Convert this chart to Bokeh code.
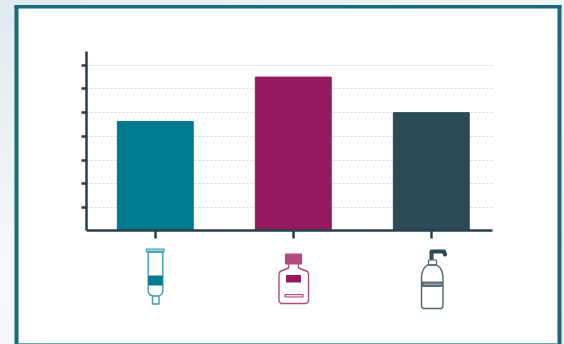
from bokeh.plotting import figure
from bokeh.models import Range1d, FixedTicker
from bokeh.embed import file_html
from bokeh.resources import INLINE

categories = ["Tube", "Bottle", "Pump"]
values = [4.63, 6.5, 5.0]
bar_colors = ["#007a8f", "#96185e", "#2c4a55"]
y_ticks = [1, 2, 3, 4, 5, 6, 7]
positions = [0, 1, 2]

INK = "#24404d"
FRAME = "#186b7a"
TEAL_L = "#3f9bb0"
MAG_L = "#b5487f"
DARK_L = "#4a6570"

p = figure(width=564, height=344, output_backend="svg", toolbar_location=None,
           x_range=Range1d(-0.4985, 2.4435), y_range=Range1d(0.03, 7.58),
           min_border_left=86, min_border_right=72, min_border_top=51, min_border_bottom=114,
           background_fill_color=None, border_fill_color=None, outline_line_color=None)
p.styles = {
    "position": "fixed", "left": "0", "top": "0",
    "background": "linear-gradient(#ffffff,#ffffff) 18px 8px / 539px 335px no-repeat, "
                  "linear-gradient(160deg,#dfe9f0 0%,#f6f9fb 50%,#eaf0f7 100%)",
}

p.vbar(x=positions, top=values, width=0.55, bottom=0, color=bar_colors)

for ax, tick_out in ((p.yaxis[0], 5), (p.xaxis[0], 8)):
    ax.axis_line_color = INK
    ax.axis_line_width = 2.5
    ax.major_tick_line_color = INK
    ax.major_tick_line_width = 2.5
    ax.major_tick_in = 0
    ax.major_tick_out = tick_out
    ax.minor_tick_line_color = None
    ax.major_label_text_font_size = "0px"
    ax.major_label_text_color = None
p.yaxis[0].ticker = FixedTicker(ticks=y_ticks)
p.xaxis[0].ticker = FixedTicker(ticks=positions)
p.xgrid.visible = False
p.ygrid[0].ticker = FixedTicker(ticks=y_ticks)
p.ygrid.grid_line_color = "#d4d8da"
p.ygrid.grid_line_dash = "2 2"
p.ygrid.grid_line_width = 1

# page-pixel coordinates for the frame and the decorative pictograms
p.extra_x_ranges["px"] = Range1d(86, 492)
p.extra_y_ranges["px"] = Range1d(230, 51)
kw = dict(x_range_name="px", y_range_name="px", level="overlay")

def line(xs, ys, color, w=1.5):
    p.line(xs, ys, line_color=color, line_width=w, line_join="round", line_cap="round", **kw)

def box(l, r, t, b, fill, line_color=None, w=1.0):
    p.quad(left=[l], right=[r], top=[t], bottom=[b], fill_color=fill,
           line_color=line_color, line_width=w, **kw)

# frame
box(14, 18, 4.5, 344, FRAME)
box(557, 561, 4.5, 344, FRAME)
box(14, 561, 4.5, 8, FRAME)
box(18, 557, 342.6, 344, "#6aa2ad")

# tube
box(146, 163.5, 248.5, 251.5, "#a9d3dc", TEAL_L, 1.2)
line([147.7, 147.7, 149, 152, 152, 158.5, 158.5, 161, 162.3, 162.3, 147.7],
     [251.5, 291, 294, 295.5, 303.5, 303.5, 295.5, 294, 291, 251.5, 251.5], TEAL_L, 1.4)
line([152, 158.5], [295.5, 295.5], TEAL_L, 1.4)
box(147.7, 162.3, 275, 285, "#007a8f")

# bottle
box(285, 301, 253.5, 263.5, "#b5487f", MAG_L, 1.2)
line([288, 288, 279.5, 278.5, 278.5, 280.5, 306, 308, 308, 307, 298, 298],
     [263.5, 267.5, 271, 273.5, 301, 303, 303, 301, 273.5, 271, 267.5, 263.5], MAG_L, 1.4)
box(285.5, 300.5, 274.5, 282, "#96185e")
box(284.5, 302.5, 294, 296.5, "#f2dbe7", MAG_L, 1.2)

# pump
line([431, 431, 443.5, 444.5], [260, 251, 251, 254], "#2c4a55", 4)
box(428, 436, 259.5, 264.5, "#ffffff", DARK_L, 1.2)
line([427, 424, 422, 421, 421, 422.5, 441, 442.5, 442.5, 441.5, 439.5, 436, 427],
     [264.5, 267, 271, 276, 306, 308, 308, 306, 276, 271, 267, 264.5, 264.5], DARK_L, 1.4)
box(421, 442.5, 281, 286.5, "#5c7079")
line([424, 440], [283.7, 283.7], "#b9c4c8", 0.8)

open("out.html", "w").write(file_html(p, INLINE))
